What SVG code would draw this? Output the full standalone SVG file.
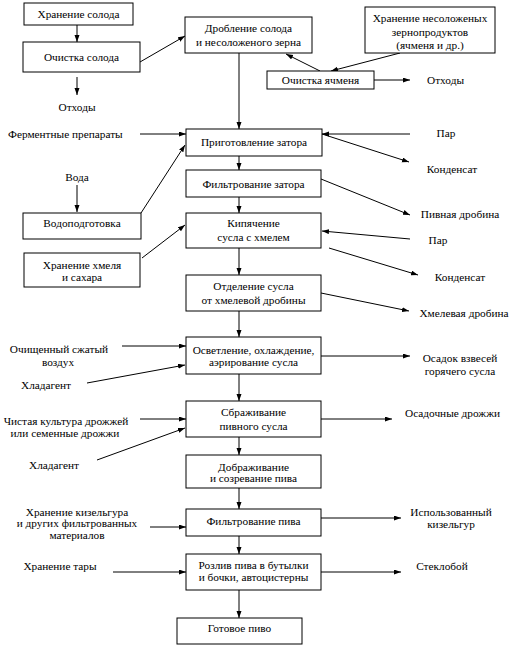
<svg xmlns="http://www.w3.org/2000/svg" width="511" height="648" viewBox="0 0 511 648">
<defs>
<marker id="ah" markerUnits="userSpaceOnUse" markerWidth="8" markerHeight="6" refX="7" refY="2.5" orient="auto">
<path d="M0,0 L7,2.5 L0,5 z" fill="#000"/>
</marker>
<style>
rect{fill:#fff;stroke:#000;stroke-width:1}
text{font-family:"Liberation Serif","Times New Roman",serif;font-size:11.3px;fill:#000}
.c{text-anchor:middle}
#conn line{stroke:#000;stroke-width:1}
#conn line.a{marker-end:url(#ah)}
</style>
</defs>
<rect x="0" y="0" width="511" height="648" style="fill:#fff;stroke:none"/>
<g id="conn">
<line class="a" x1="77" y1="25" x2="77" y2="42"/>
<line class="a" x1="77" y1="77" x2="77" y2="95"/>
<line class="a" x1="140" y1="62" x2="185" y2="36"/>
<line class="a" x1="239" y1="53" x2="239" y2="129"/>
<line class="a" x1="400" y1="53" x2="331" y2="71"/>
<line class="a" x1="320" y1="71" x2="286" y2="54"/>
<line class="a" x1="374" y1="80" x2="410" y2="80"/>
<line class="a" x1="140" y1="134" x2="186" y2="134"/>
<line class="a" x1="77" y1="185" x2="77" y2="212"/>
<line class="a" x1="141" y1="213" x2="185" y2="145"/>
<line class="a" x1="410" y1="134" x2="322" y2="134"/>
<line class="a" x1="322" y1="134" x2="409" y2="162"/>
<line class="a" x1="239" y1="156" x2="239" y2="170"/>
<line class="a" x1="321" y1="179" x2="410" y2="215"/>
<line class="a" x1="239" y1="197" x2="239" y2="213"/>
<line class="a" x1="142" y1="258" x2="185" y2="225"/>
<line class="a" x1="410" y1="239" x2="322" y2="231"/>
<line class="a" x1="329" y1="248" x2="418" y2="275"/>
<line class="a" x1="239" y1="248" x2="239" y2="275"/>
<line class="a" x1="321" y1="293" x2="409" y2="311"/>
<line class="a" x1="239" y1="311" x2="239" y2="337"/>
<line class="a" x1="122" y1="346" x2="186" y2="346"/>
<line class="a" x1="87" y1="383" x2="185" y2="365"/>
<line class="a" x1="321" y1="356" x2="410" y2="356"/>
<line class="a" x1="239" y1="374" x2="239" y2="401"/>
<line class="a" x1="140" y1="419" x2="186" y2="419"/>
<line class="a" x1="97" y1="460" x2="185" y2="428"/>
<line class="a" x1="321" y1="419" x2="392" y2="419"/>
<line class="a" x1="239" y1="437" x2="239" y2="455"/>
<line class="a" x1="239" y1="488" x2="239" y2="509"/>
<line class="a" x1="150" y1="527" x2="186" y2="527"/>
<line class="a" x1="321" y1="518" x2="401" y2="518"/>
<line class="a" x1="239" y1="536" x2="239" y2="554"/>
<line class="a" x1="113" y1="572" x2="186" y2="572"/>
<line class="a" x1="321" y1="572" x2="401" y2="572"/>
<line class="a" x1="239" y1="590" x2="239" y2="618"/>
</g>
<g id="n-hran-soloda"><rect x="24" y="3" width="109" height="22"/><text class="c" x="78.5" y="18">Хранение солода</text></g>
<g id="n-ochistka-soloda"><rect x="23" y="42" width="117" height="30"/><text class="c" x="81.5" y="61">Очистка солода</text></g>
<g id="t-othody1"><text class="c" x="77" y="111">Отходы</text></g>
<g id="n-droblenie"><rect x="185" y="17" width="127" height="36"/><text class="c" x="248.5" y="32">Дробление солода</text><text class="c" x="248.5" y="46">и несоложеного зерна</text></g>
<g id="n-hran-nesol"><rect x="365" y="7" width="130" height="46"/><text class="c" x="430" y="22">Хранение  несоложеных</text><text class="c" x="430" y="36">зернопродуктов</text><text class="c" x="430" y="49">(ячменя и др.)</text></g>
<g id="n-ochistka-yachm"><rect x="267" y="71" width="107" height="18"/><text class="c" x="320.5" y="84">Очистка ячменя</text></g>
<g id="t-othody2"><text x="427" y="84">Отходы</text></g>
<g id="t-ferment"><text x="8" y="138">Ферментные препараты</text></g>
<g id="t-voda"><text class="c" x="77" y="181">Вода</text></g>
<g id="n-vodopodg"><rect x="23" y="213" width="118" height="26"/><text class="c" x="82" y="227">Водоподготовка</text></g>
<g id="n-hran-hmelya"><rect x="24" y="253" width="116" height="34"/><text class="c" x="82" y="269">Хранение хмеля</text><text class="c" x="82" y="281">и сахара</text></g>
<g id="n-prigotovlenie"><rect x="186" y="129" width="136" height="27"/><text class="c" x="254" y="146">Приготовление затора</text></g>
<g id="n-filtr-zatora"><rect x="186" y="170" width="135" height="27"/><text class="c" x="253.5" y="188">Фильтрование затора</text></g>
<g id="n-kipyachenie"><rect x="186" y="213" width="135" height="35"/><text class="c" x="253.5" y="227">Кипячение</text><text class="c" x="253.5" y="241">сусла с хмелем</text></g>
<g id="n-otdelenie"><rect x="186" y="275" width="135" height="36"/><text class="c" x="253.5" y="290">Отделение сусла</text><text class="c" x="253.5" y="304">от хмелевой дробины</text></g>
<g id="n-osvetlenie"><rect x="186" y="337" width="135" height="37"/><text class="c" x="253.5" y="354">Осветление, охлаждение,</text><text class="c" x="253.5" y="366">аэрирование сусла</text></g>
<g id="n-sbrazhivanie"><rect x="186" y="401" width="135" height="36"/><text class="c" x="253.5" y="416">Сбраживание</text><text class="c" x="253.5" y="430">пивного сусла</text></g>
<g id="n-dobrazhivanie"><rect x="186" y="455" width="135" height="33"/><text class="c" x="253.5" y="471">Дображивание</text><text class="c" x="253.5" y="482">и  созревание пива</text></g>
<g id="n-filtr-piva"><rect x="186" y="509" width="135" height="27"/><text class="c" x="253.5" y="525">Фильтрование пива</text></g>
<g id="n-rozliv"><rect x="186" y="554" width="135" height="36"/><text class="c" x="253.5" y="569">Розлив пива в бутылки</text><text class="c" x="253.5" y="581">и бочки, автоцистерны</text></g>
<g id="n-gotovoe"><rect x="177" y="618" width="125" height="26"/><text class="c" x="239.5" y="632">Готовое пиво</text></g>
<g id="t-vozduh"><text class="c" x="59" y="353">Очищенный сжатый</text><text class="c" x="58" y="366">воздух</text></g>
<g id="t-hlad1"><text class="c" x="46" y="389">Хладагент</text></g>
<g id="t-kultura"><text class="c" x="66" y="425">Чистая культура дрожжей</text><text class="c" x="65" y="437">или семенные дрожжи</text></g>
<g id="t-hlad2"><text class="c" x="54" y="469">Хладагент</text></g>
<g id="t-kizelgur"><text class="c" x="77" y="516">Хранение кизельгура</text><text class="c" x="77" y="527">и других фильтрованных</text><text class="c" x="77" y="539">материалов</text></g>
<g id="t-tara"><text class="c" x="60" y="570">Хранение тары</text></g>
<g id="t-par1"><text class="c" x="446" y="137">Пар</text></g>
<g id="t-kond1"><text class="c" x="452" y="173">Конденсат</text></g>
<g id="t-pivdrob"><text class="c" x="460" y="218">Пивная дробина</text></g>
<g id="t-par2"><text class="c" x="438" y="244">Пар</text></g>
<g id="t-kond2"><text class="c" x="460" y="281">Конденсат</text></g>
<g id="t-hmeldrob"><text class="c" x="464" y="317">Хмелевая дробина</text></g>
<g id="t-osadok"><text class="c" x="460" y="362">Осадок взвесей</text><text class="c" x="460" y="375">горячего сусла</text></g>
<g id="t-osdrozh"><text x="405" y="417">Осадочные дрожжи</text></g>
<g id="t-ispkiz"><text class="c" x="451" y="516">Использованный</text><text class="c" x="451" y="528">кизельгур</text></g>
<g id="t-stekl"><text class="c" x="442" y="570">Стеклобой</text></g>
</svg>
